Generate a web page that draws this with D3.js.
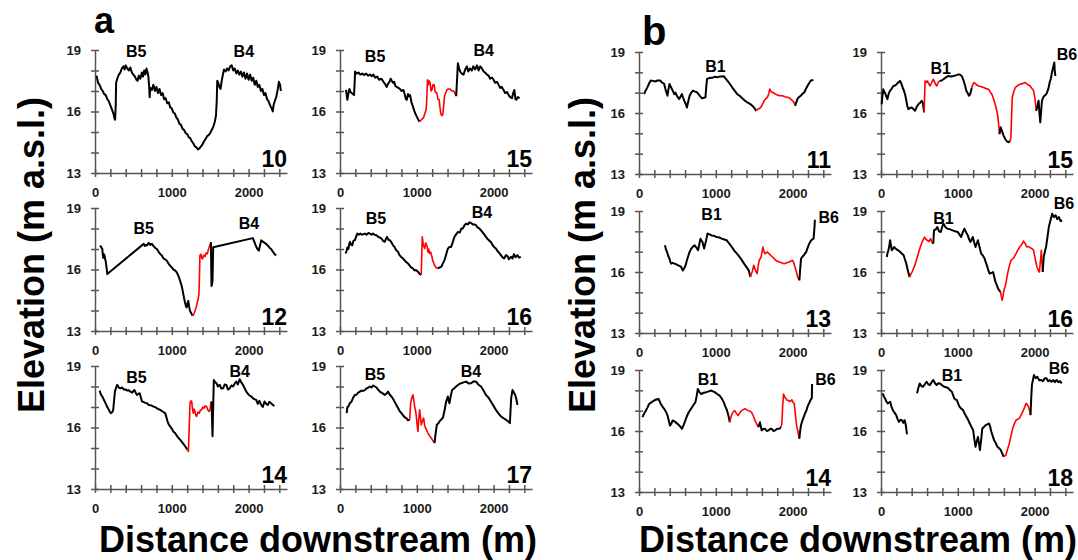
<!DOCTYPE html>
<html>
<head>
<meta charset="utf-8">
<script src="https://cdn.jsdelivr.net/npm/d3@7"></script>
<style>
  body { margin: 0; background: #fff; }
  text { font-family: "Liberation Sans", Arial, sans-serif; font-weight: bold; }
</style>
</head>
<body>
<svg id="chart" width="1078" height="560"></svg>
<script>
//Tick labels shown on every panel
const xTickLabels = [0, 1000, 2000];
const yTickLabels = [13, 16, 19];

//Panel numbers (flood events) for group a and b
const numbersA = ["10", "15", "12", "16", "14", "17"];
const numbersB = ["11", "15", "13", "16", "14", "18"];

//Elevation profiles [distance m, elevation m a.s.l.]
const prof10 = [[20,17.75],[40,17.4],[60,17.3],[80,17.1],[100,17.0],[120,16.85],[140,16.8],[160,16.6],[180,16.5],[200,16.3],[220,16.1],[240,15.9],[255,15.65],[262,15.6],[270,16.3],[275,17.4],[290,17.6],[310,17.8],[330,17.9],[350,18.1],[370,18.2],[385,18.05],[400,18.25],[420,18.1],[440,18.0],[460,18.15],[480,17.9],[500,17.8],[520,17.7],[540,17.55],[555,17.5],[570,17.75],[590,17.6],[610,17.9],[625,17.7],[640,18.0],[655,17.8],[670,18.1],[685,17.9],[695,17.7],[705,17.2],[712,16.7],[720,17.15],[740,17.05],[760,17.3],[780,17.0],[800,17.2],[820,16.9],[840,17.1],[860,16.8],[880,16.9],[900,16.6],[920,16.65],[940,16.4],[960,16.45],[980,16.2],[1000,16.15],[1020,15.95],[1040,15.9],[1060,15.7],[1080,15.6],[1100,15.4],[1120,15.35],[1140,15.15],[1160,15.1],[1180,14.95],[1200,14.9],[1220,14.75],[1240,14.7],[1260,14.55],[1280,14.45],[1300,14.3],[1320,14.25],[1340,14.15],[1360,14.2],[1380,14.3],[1400,14.4],[1420,14.55],[1440,14.65],[1460,14.8],[1480,14.85],[1500,14.95],[1520,15.1],[1540,15.25],[1560,15.5],[1575,15.8],[1585,16.5],[1592,17.5],[1605,17.4],[1620,17.2],[1635,17.1],[1650,17.5],[1665,17.8],[1680,18.05],[1700,17.95],[1720,18.1],[1740,18.0],[1760,18.2],[1780,18.25],[1800,18.0],[1820,18.1],[1840,17.85],[1860,18.0],[1880,17.8],[1900,17.95],[1920,17.7],[1940,17.9],[1960,17.6],[1980,17.85],[2000,17.55],[2020,17.8],[2040,17.5],[2060,17.65],[2080,17.3],[2100,17.5],[2120,17.2],[2140,17.3],[2160,17.0],[2180,17.1],[2200,16.8],[2220,16.9],[2240,16.6],[2260,16.5],[2280,16.3],[2300,16.15],[2315,16.0],[2325,16.3],[2340,16.5],[2360,16.7],[2380,17.1],[2395,17.45],[2410,17.3],[2420,17.0]];
const prof15a = [[78,17.05],[96,16.57],[110,16.9],[122,17.1],[137,16.95],[152,16.9],[168,16.85],[183,16.8],[192,17.5],[196,17.95],[217,17.85],[240,17.9],[265,17.8],[290,17.85],[315,17.78],[340,17.85],[365,17.75],[390,17.8],[415,17.72],[435,17.8],[460,17.65],[485,17.7],[510,17.55],[540,17.6],[565,17.45],[585,17.35],[608,17.2],[625,17.35],[645,17.45],[660,17.6],[674,17.5],[690,17.4],[705,17.45],[720,17.25],[739,17.2],[760,17.15],[780,17.1],[800,17.0],[826,17.05],[845,16.8],[858,16.6],[870,16.57],[885,16.85],[900,16.75],[913,16.8],[930,16.45],[945,16.3],[957,16.15],[975,15.95],[1000,15.75],[1020,15.6],[1035,15.5],[1060,15.6],[1087,15.7],[1105,15.9],[1122,16.1],[1130,16.6],[1139,17.55],[1150,17.3],[1160,17.5],[1174,17.4],[1185,17.0],[1196,17.05],[1210,17.3],[1226,17.3],[1240,16.95],[1261,16.9],[1275,16.6],[1291,16.57],[1302,16.2],[1313,15.9],[1325,15.8],[1339,15.85],[1350,16.3],[1361,16.75],[1375,16.9],[1391,17.05],[1410,17.1],[1435,17.1],[1455,17.0],[1478,17.0],[1495,16.9],[1513,16.75],[1535,18.35],[1550,18.1],[1565,17.95],[1585,17.85],[1609,17.8],[1630,18.05],[1652,18.2],[1670,17.95],[1690,18.1],[1717,18.0],[1735,18.2],[1760,18.05],[1783,18.25],[1805,18.0],[1825,18.2],[1848,18.1],[1870,17.95],[1890,17.9],[1913,17.8],[1935,17.75],[1955,17.6],[1980,17.65],[2000,17.55],[2020,17.4],[2045,17.45],[2065,17.3],[2085,17.15],[2105,17.2],[2130,17.05],[2150,16.9],[2175,16.95],[2196,16.8],[2215,16.7],[2239,16.65],[2255,16.9],[2270,17.05],[2285,16.6],[2296,16.57],[2315,16.7],[2339,16.65]];
const prof12 = [[65,17.17],[80,17.1],[95,17.0],[102,16.7],[108,16.57],[116,16.75],[125,16.68],[132,16.5],[138,16.43],[150,16.1],[160,15.78],[634,17.25],[650,17.15],[665,17.2],[677,17.17],[700,17.3],[720,17.2],[741,17.25],[760,17.15],[785,17.05],[806,17.0],[830,16.85],[850,16.75],[871,16.68],[890,16.55],[910,16.5],[935,16.43],[955,16.3],[975,16.2],[1000,16.1],[1020,16.0],[1045,15.95],[1065,15.86],[1085,15.7],[1108,15.45],[1125,15.25],[1142,14.96],[1160,14.6],[1172,14.39],[1185,14.2],[1194,14.15],[1205,14.35],[1215,14.47],[1225,14.2],[1237,13.98],[1255,13.85],[1272,13.74],[1290,13.85],[1302,13.98],[1320,14.2],[1332,14.39],[1345,14.6],[1353,14.8],[1360,15.6],[1366,16.68],[1380,16.75],[1390,16.55],[1401,16.52],[1415,16.7],[1431,16.63],[1445,16.8],[1461,16.76],[1475,16.95],[1487,17.09],[1498,17.2],[1509,17.33],[1517,15.2],[1524,15.3],[1530,15.45],[1539,17.09],[2056,17.53],[2075,17.35],[2090,17.2],[2099,17.12],[2115,17.0],[2134,16.92],[2150,17.2],[2164,17.42],[2190,17.35],[2210,17.3],[2228,17.25],[2255,17.15],[2275,17.05],[2293,17.0],[2320,16.85],[2340,16.75],[2358,16.68]];
const prof16a = [[73,16.78],[85,16.9],[95,17.07],[110,17.0],[120,17.25],[130,17.35],[145,17.2],[160,17.18],[175,17.4],[194,17.43],[210,17.6],[225,17.75],[245,17.7],[265,17.75],[285,17.7],[302,17.72],[325,17.75],[345,17.7],[370,17.78],[389,17.75],[410,17.7],[430,17.75],[455,17.68],[475,17.67],[495,17.6],[520,17.55],[540,17.51],[560,17.4],[583,17.35],[598,17.5],[613,17.59],[630,17.45],[648,17.43],[665,17.35],[691,17.18],[710,17.1],[730,16.95],[756,16.86],[775,16.7],[800,16.6],[821,16.54],[840,16.45],[865,16.35],[886,16.29],[905,16.2],[925,16.1],[950,16.05],[970,15.95],[990,15.98],[1015,15.89],[1035,15.8],[1058,15.73],[1071,17.59],[1085,17.2],[1102,17.02],[1115,17.3],[1132,17.18],[1145,16.85],[1155,17.0],[1166,16.78],[1180,16.85],[1197,16.62],[1210,16.4],[1231,16.21],[1250,16.1],[1274,16.05],[1295,16.1],[1318,16.13],[1340,16.3],[1361,16.46],[1380,16.7],[1404,17.02],[1425,17.1],[1447,17.1],[1470,17.35],[1490,17.59],[1510,17.7],[1534,17.83],[1560,17.8],[1580,18.0],[1598,18.0],[1620,18.15],[1641,18.24],[1665,18.2],[1685,18.3],[1706,18.27],[1730,18.2],[1750,18.2],[1771,18.16],[1790,18.05],[1815,18.0],[1836,17.91],[1860,17.8],[1880,17.7],[1900,17.59],[1920,17.5],[1945,17.4],[1965,17.35],[1985,17.2],[2005,17.1],[2030,17.02],[2050,16.9],[2075,16.8],[2095,16.7],[2115,16.6],[2138,16.54],[2160,16.7],[2181,16.65],[2200,16.5],[2225,16.62],[2246,16.54],[2265,16.75],[2285,16.6],[2311,16.7],[2330,16.58],[2354,16.62]];
const prof14a = [[60,17.8],[78,17.6],[95,17.51],[115,17.35],[138,17.18],[160,17.0],[181,16.86],[195,16.75],[211,16.7],[225,16.75],[237,16.86],[248,17.3],[259,17.75],[275,17.95],[289,18.08],[310,17.95],[332,17.91],[355,17.95],[375,17.85],[397,17.86],[420,17.8],[440,17.82],[461,17.75],[485,17.7],[513,17.83],[530,17.7],[547,17.59],[565,17.65],[582,17.67],[598,17.45],[612,17.27],[630,17.25],[655,17.2],[677,17.18],[700,17.1],[730,17.08],[763,17.02],[790,16.98],[820,16.9],[849,16.86],[880,16.78],[914,16.7],[930,16.5],[944,16.3],[960,16.15],[978,16.05],[1000,15.95],[1020,15.8],[1043,15.73],[1065,15.6],[1085,15.5],[1108,15.41],[1130,15.3],[1159,15.16],[1180,15.05],[1203,14.92],[1216,14.83],[1237,17.18],[1248,17.3],[1259,17.27],[1270,16.9],[1280,16.7],[1290,16.9],[1302,16.78],[1312,16.6],[1323,16.54],[1340,16.75],[1358,16.7],[1372,16.85],[1388,16.86],[1405,17.0],[1418,16.94],[1435,17.05],[1453,17.02],[1470,16.85],[1487,16.78],[1500,16.9],[1510,17.2],[1517,17.27],[1530,15.57],[1547,18.32],[1565,18.2],[1582,18.16],[1600,18.0],[1625,18.08],[1645,17.9],[1668,17.91],[1690,18.1],[1711,18.08],[1730,17.85],[1754,17.91],[1775,18.05],[1797,18.0],[1820,18.15],[1841,18.24],[1860,18.1],[1884,18.35],[1905,18.2],[1927,18.08],[1950,17.9],[1970,17.75],[2000,17.6],[2034,17.51],[2065,17.4],[2099,17.35],[2120,17.15],[2140,17.3],[2164,17.1],[2185,17.0],[2207,17.27],[2230,17.15],[2250,17.1],[2270,17.25],[2293,17.18],[2315,17.1],[2336,17.05]];
const prof17 = [[86,16.7],[97,17.0],[108,17.02],[130,17.2],[151,17.27],[170,17.45],[194,17.59],[215,17.6],[237,17.7],[259,17.75],[280,17.8],[302,17.78],[324,17.83],[345,17.9],[367,17.95],[389,18.0],[410,17.95],[432,18.05],[454,18.0],[475,17.95],[497,17.85],[518,17.75],[540,17.7],[561,17.65],[583,17.59],[605,17.65],[626,17.75],[648,17.6],[670,17.51],[690,17.4],[712,17.25],[734,17.1],[755,16.95],[777,16.8],[799,16.7],[820,16.6],[842,16.5],[864,16.46],[885,16.35],[907,16.38],[920,17.18],[935,17.45],[950,17.59],[962,17.3],[972,17.02],[985,16.8],[994,16.54],[1005,16.1],[1015,15.81],[1025,16.4],[1037,16.86],[1048,16.5],[1058,16.13],[1072,16.3],[1089,16.46],[1102,16.1],[1115,15.97],[1130,15.85],[1145,15.73],[1165,15.6],[1188,15.49],[1210,15.35],[1231,15.24],[1245,15.7],[1261,16.13],[1280,16.2],[1296,16.3],[1320,16.4],[1339,16.46],[1360,16.8],[1382,17.27],[1404,17.51],[1415,17.3],[1425,17.18],[1440,17.5],[1460,17.83],[1485,17.9],[1512,18.0],[1545,18.1],[1577,18.16],[1610,18.2],[1641,18.24],[1675,18.15],[1706,18.16],[1740,18.25],[1771,18.24],[1800,18.1],[1836,18.0],[1870,17.8],[1900,17.59],[1935,17.45],[1965,17.27],[2000,17.05],[2030,16.86],[2060,16.7],[2095,16.54],[2130,16.45],[2160,16.38],[2190,16.3],[2212,16.21],[2220,16.8],[2229,17.43],[2246,17.83],[2265,17.7],[2281,17.59],[2295,17.4],[2311,17.1]];
const prof11 = [[66,16.93],[85,17.1],[109,17.26],[130,17.45],[153,17.6],[180,17.58],[210,17.55],[240,17.6],[275,17.6],[300,17.5],[328,17.43],[350,17.1],[371,16.85],[385,17.2],[397,17.43],[412,17.3],[428,17.18],[445,17.05],[459,16.93],[475,17.0],[493,16.85],[510,16.75],[524,16.69],[540,16.8],[559,16.93],[575,16.75],[590,16.6],[608,16.45],[624,16.27],[640,16.55],[659,16.85],[680,17.0],[703,17.1],[730,17.05],[755,17.02],[790,16.85],[821,16.72],[845,16.75],[865,16.77],[876,17.3],[886,17.68],[920,17.72],[952,17.73],[985,17.78],[1017,17.76],[1060,17.8],[1105,17.81],[1125,17.7],[1148,17.6],[1180,17.45],[1214,17.26],[1245,17.1],[1279,16.93],[1310,16.85],[1345,16.72],[1380,16.6],[1410,16.52],[1445,16.45],[1476,16.36],[1500,16.25],[1528,16.1],[1541,16.19],[1560,16.2],[1585,16.27],[1605,16.4],[1629,16.6],[1650,16.7],[1672,16.77],[1690,16.95],[1703,17.18],[1720,17.05],[1738,17.02],[1770,16.95],[1803,16.88],[1835,16.85],[1869,16.85],[1900,16.8],[1934,16.77],[1965,16.72],[2000,16.6],[2020,16.5],[2035,16.36],[2050,16.55],[2066,16.72],[2088,16.8],[2109,16.85],[2130,16.95],[2153,17.02],[2175,17.2],[2197,17.35],[2220,17.5],[2240,17.6],[2271,17.63]];
const prof15b = [[9,16.43],[20,16.9],[30,17.17],[40,17.05],[52,17.0],[65,16.85],[83,16.68],[100,16.95],[117,17.09],[140,17.2],[161,17.33],[183,17.35],[204,17.42],[225,17.5],[248,17.58],[265,17.45],[283,17.25],[298,17.1],[313,16.92],[330,16.6],[345,16.3],[357,16.19],[378,16.25],[400,16.27],[420,16.2],[443,16.11],[465,16.3],[487,16.43],[510,16.5],[530,16.6],[545,16.5],[561,16.03],[574,17.58],[590,17.5],[604,17.58],[620,17.45],[639,17.33],[660,17.5],[683,17.66],[705,17.45],[726,17.33],[745,17.5],[761,17.58],[790,17.6],[813,17.66],[845,17.75],[878,17.82],[910,17.8],[943,17.82],[975,17.85],[1009,17.9],[1030,17.88],[1052,17.82],[1075,17.6],[1096,17.33],[1110,17.1],[1126,17.0],[1145,16.85],[1161,16.92],[1183,17.25],[1200,17.45],[1213,17.5],[1240,17.4],[1270,17.33],[1300,17.3],[1335,17.25],[1368,17.2],[1400,17.17],[1420,17.05],[1443,16.92],[1465,16.7],[1487,16.43],[1505,16.15],[1517,15.94],[1530,15.5],[1543,14.96],[1558,15.3],[1574,15.13],[1595,14.9],[1617,14.72],[1640,14.6],[1661,14.56],[1683,14.64],[1691,14.8],[1700,15.8],[1709,16.76],[1725,17.0],[1748,17.25],[1780,17.35],[1813,17.42],[1845,17.45],[1878,17.5],[1910,17.4],[1943,17.33],[1965,17.2],[1987,17.09],[2005,16.7],[2022,16.11],[2040,16.4],[2052,16.6],[2063,16.0],[2074,15.54],[2085,16.1],[2096,16.6],[2110,16.75],[2126,16.84],[2145,16.9],[2161,17.0],[2180,17.2],[2196,17.5],[2212,17.7],[2226,17.99],[2245,18.3],[2257,18.48],[2262,18.1],[2270,17.82]];
const prof13 = [[338,17.31],[352,17.1],[365,16.98],[380,16.8],[396,16.66],[408,16.5],[418,16.41],[440,16.45],[462,16.41],[485,16.38],[505,16.33],[527,16.3],[549,16.25],[560,16.15],[571,16.08],[590,16.2],[607,16.33],[622,16.55],[637,16.74],[660,17.0],[681,17.15],[703,17.25],[725,17.31],[748,17.2],[769,17.07],[785,17.35],[800,17.64],[813,17.55],[826,17.48],[838,17.3],[848,17.15],[860,17.35],[870,17.48],[882,17.7],[892,17.89],[918,17.85],[945,17.8],[978,17.78],[1011,17.72],[1044,17.7],[1077,17.64],[1110,17.6],[1143,17.56],[1175,17.4],[1209,17.23],[1240,17.05],[1275,16.9],[1308,16.75],[1341,16.57],[1370,16.4],[1398,16.25],[1429,16.08],[1451,15.75],[1462,15.9],[1473,16.0],[1495,16.33],[1516,16.08],[1538,15.92],[1552,16.3],[1565,16.57],[1591,16.74],[1613,17.23],[1628,17.0],[1640,16.9],[1670,16.98],[1692,16.9],[1714,16.82],[1736,16.75],[1758,16.66],[1790,16.55],[1824,16.49],[1857,16.45],[1890,16.41],[1923,16.45],[1956,16.49],[1978,16.55],[2000,16.57],[2015,16.45],[2031,16.25],[2050,16.0],[2066,15.75],[2088,15.59],[2100,16.2],[2110,16.66],[2128,16.75],[2145,16.82],[2160,16.9],[2176,16.98],[2192,17.15],[2207,17.31],[2225,17.45],[2242,17.56],[2273,17.64],[2285,18.2],[2290,18.57]];
const prof16b = [[75,16.74],[86,16.95],[97,17.07],[108,17.3],[119,17.56],[130,17.3],[141,17.07],[156,17.15],[171,17.23],[190,17.15],[207,17.1],[230,17.05],[251,16.98],[273,16.9],[295,16.82],[313,16.6],[330,16.41],[345,16.15],[360,15.92],[374,15.75],[390,15.9],[404,16.0],[426,16.2],[448,16.41],[470,16.7],[492,16.98],[514,17.25],[536,17.48],[552,17.6],[567,17.72],[585,17.6],[602,17.56],[625,17.5],[646,17.64],[665,17.45],[681,17.39],[690,18.05],[712,18.1],[734,18.21],[756,18.0],[778,17.97],[795,18.2],[813,18.38],[840,18.2],[866,18.13],[900,18.1],[932,18.05],[965,18.0],[998,17.97],[1020,17.85],[1042,17.72],[1065,17.95],[1086,18.13],[1108,17.95],[1130,17.8],[1148,17.6],[1165,17.48],[1180,17.6],[1196,17.72],[1213,17.45],[1231,17.23],[1246,17.4],[1262,17.56],[1284,17.2],[1305,16.9],[1327,16.8],[1349,16.66],[1367,16.45],[1385,16.25],[1400,16.05],[1415,15.92],[1437,15.95],[1459,16.0],[1475,15.75],[1490,15.51],[1508,15.35],[1525,15.18],[1540,15.1],[1556,15.02],[1567,14.8],[1578,14.61],[1590,14.85],[1600,15.1],[1613,15.25],[1626,15.43],[1640,15.75],[1657,16.08],[1675,16.35],[1692,16.57],[1715,16.65],[1736,16.74],[1758,16.9],[1780,17.07],[1802,17.2],[1824,17.31],[1840,17.4],[1855,17.52],[1877,17.4],[1899,17.23],[1921,17.25],[1943,17.2],[1965,17.15],[1987,17.07],[2010,16.6],[2031,16.25],[2046,16.1],[2062,16.0],[2075,16.5],[2088,17.07],[2096,16.5],[2105,16.0],[2119,16.74],[2134,17.0],[2149,17.23],[2167,17.7],[2185,18.21],[2207,18.55],[2229,18.87],[2250,18.7],[2273,18.79],[2295,18.6],[2316,18.7],[2338,18.5],[2360,18.54]];
const prof14b = [[44,16.68],[66,16.85],[88,17.0],[110,17.15],[131,17.33],[165,17.42],[197,17.5],[225,17.55],[254,17.58],[270,17.45],[284,17.33],[305,17.2],[328,17.09],[350,16.95],[372,16.76],[388,16.5],[403,16.27],[420,16.35],[438,16.52],[470,16.45],[503,16.35],[530,16.25],[560,16.11],[582,16.3],[604,16.52],[626,16.75],[648,16.92],[670,17.05],[691,17.17],[713,17.3],[735,17.42],[750,17.7],[766,18.07],[788,17.9],[810,17.82],[843,17.88],[875,17.91],[908,17.95],[941,17.99],[963,17.95],[985,17.91],[1018,17.82],[1050,17.74],[1077,17.6],[1103,17.42],[1125,17.2],[1147,17.0],[1165,16.75],[1182,16.43],[1197,16.7],[1212,16.84],[1230,16.95],[1247,17.0],[1270,16.85],[1291,16.76],[1313,16.9],[1335,17.0],[1357,17.05],[1379,17.09],[1400,17.05],[1422,17.0],[1445,16.98],[1466,16.92],[1488,16.75],[1510,16.52],[1532,16.35],[1554,16.19],[1575,16.43],[1597,16.03],[1619,16.1],[1641,16.11],[1663,16.0],[1685,16.03],[1707,16.1],[1729,16.11],[1750,16.0],[1772,16.03],[1794,16.1],[1816,16.11],[1832,16.12],[1847,16.19],[1860,16.35],[1870,17.2],[1882,17.82],[1900,17.65],[1917,17.58],[1932,17.5],[1948,17.5],[1970,17.45],[1991,17.53],[2008,17.4],[2022,17.33],[2034,16.9],[2044,16.52],[2055,16.2],[2066,16.03],[2078,15.8],[2088,15.62],[2098,16.0],[2109,16.27],[2126,16.5],[2144,16.68],[2160,16.85],[2179,17.0],[2195,17.2],[2210,17.33],[2225,17.45],[2241,17.58],[2250,17.6],[2254,18.31]];
const prof18a = [[22,17.85],[37,17.7],[53,17.6],[70,17.45],[88,17.36],[104,17.4],[119,17.44],[136,17.2],[154,17.03],[175,16.9],[198,16.78],[215,16.6],[233,16.45],[253,16.55],[273,16.53],[290,16.4],[308,16.53],[323,16.3],[338,15.84]];
const prof18b = [[470,17.85],[485,18.1],[505,18.34],[527,18.2],[549,18.18],[571,18.3],[593,18.42],[615,18.3],[637,18.26],[659,18.4],[681,18.51],[703,18.35],[725,18.26],[747,18.35],[769,18.34],[795,18.25],[822,18.18],[850,18.15],[879,18.1],[900,18.0],[923,17.93],[940,17.75],[954,17.6],[970,17.55],[989,17.52],[1005,17.35],[1024,17.19],[1045,17.1],[1068,17.03],[1090,16.85],[1112,16.7],[1134,16.55],[1156,16.37],[1178,16.2],[1200,16.04],[1215,15.6],[1231,15.22],[1247,15.5],[1262,15.71],[1275,15.4],[1288,15.06],[1305,15.6],[1319,16.12],[1340,16.2],[1363,16.29],[1385,16.33],[1407,16.37],[1422,16.2],[1437,15.96],[1455,15.75],[1473,15.55],[1495,15.4],[1516,15.22],[1538,15.15],[1560,15.06],[1578,14.9],[1596,14.73],[1610,14.78],[1626,14.81],[1648,15.1],[1670,15.38],[1692,15.75],[1714,16.12],[1736,16.35],[1758,16.53],[1780,16.58],[1802,16.62],[1825,16.8],[1846,16.95],[1868,17.15],[1890,17.36],[1905,17.3],[1921,17.19],[1935,17.0],[1947,16.78],[1956,17.6],[1965,18.26],[1978,18.5],[1991,18.75],[2013,18.6],[2035,18.67],[2060,18.5],[2088,18.51],[2110,18.45],[2132,18.6],[2154,18.59],[2176,18.45],[2198,18.5],[2220,18.42],[2242,18.5],[2264,18.4],[2286,18.51],[2308,18.4],[2330,18.45],[2352,18.34]];

//Distance ranges [from, to] drawn in red
const red10 = [];
const red15a = [[1035,1513]];
const red12 = [[1272,1509]];
const red16a = [[1058,1274]];
const red14a = [[1203,1517]];
const red17 = [[907,1231]];
const red11 = [[1528,2035]];
const red15b = [[561,761],[1183,1543],[1683,2022]];
const red13 = [[1451,2088]];
const red16b = [[374,681],[1556,2105]];
const red14b = [[1182,1554],[1847,2088]];
const red18 = [[1596,1947]];

//Bend labels [name, distance, elevation]
const marks10 = [["B5",537,18.68],["B4",1938,18.68]];
const marks15a = [["B5",457,18.43],["B4",1870,18.72]];
const marks12 = [["B5",634,17.74],["B4",2004,17.99]];
const marks16a = [["B5",467,18.24],["B4",1849,18.51]];
const marks14a = [["B5",539,18.19],["B4",1884,18.48]];
const marks17 = [["B5",454,18.32],["B4",1706,18.48]];
const marks11 = [["B1",996,18.0]];
const marks15b = [["B1",778,17.94],["B6",2422,18.6]];
const marks13 = [["B1",945,18.54],["B6",2470,18.41]];
const marks16b = [["B1",813,18.38],["B6",2382,19.1]];
const marks14b = [["B1",897,18.26],["B6",2429,18.26]];
const marks18 = [["B1",923,18.46],["B6",2316,18.79]];

//Select the svg element by id
const chartBox = d3.select("#chart");

//Panel grid: axis origins in pixels
const colX = [95, 340, 639, 881];
const rowTopA = [50, 208, 366];
const rowTopB = [52, 211, 370];
const panelW = 192;

const panels = [
    {num: numbersA[0], lines: [prof10], red: red10, marks: marks10, col: 0, row: 0},
    {num: numbersA[1], lines: [prof15a], red: red15a, marks: marks15a, col: 1, row: 0},
    {num: numbersA[2], lines: [prof12], red: red12, marks: marks12, col: 0, row: 1},
    {num: numbersA[3], lines: [prof16a], red: red16a, marks: marks16a, col: 1, row: 1},
    {num: numbersA[4], lines: [prof14a], red: red14a, marks: marks14a, col: 0, row: 2},
    {num: numbersA[5], lines: [prof17], red: red17, marks: marks17, col: 1, row: 2},
    {num: numbersB[0], lines: [prof11], red: red11, marks: marks11, col: 2, row: 0},
    {num: numbersB[1], lines: [prof15b], red: red15b, marks: marks15b, col: 3, row: 0},
    {num: numbersB[2], lines: [prof13], red: red13, marks: marks13, col: 2, row: 1},
    {num: numbersB[3], lines: [prof16b], red: red16b, marks: marks16b, col: 3, row: 1},
    {num: numbersB[4], lines: [prof14b], red: red14b, marks: marks14b, col: 2, row: 2},
    {num: numbersB[5], lines: [prof18a, prof18b], red: red18, marks: marks18, col: 3, row: 2}
];

//Split a profile into black / red runs
function runsOf(pts, red) {
    const inRed = (a, b) => {
        const m = (a[0] + b[0]) / 2;
        return red.some(r => m >= r[0] && m <= r[1]);
    };
    const out = [];
    let cur = null;
    for (let i = 0; i < pts.length - 1; i++) {
        const r = inRed(pts[i], pts[i + 1]);
        if (!cur || cur.red !== r) {
            cur = {red: r, pts: [pts[i]]};
            out.push(cur);
        }
        cur.pts.push(pts[i + 1]);
    }
    return out;
}

panels.forEach(p => {
    const left = colX[p.col];
    const top = p.col < 2 ? rowTopA[p.row] : rowTopB[p.row];
    const h = p.col < 2 ? 123 : 122;

    const xScale = d3.scaleLinear().domain([0, 2500]).range([0, panelW]);
    const yScale = d3.scaleLinear().domain([13, 19]).range([h, 0]);

    const g = chartBox.append("g").attr("transform", "translate(" + left + "," + top + ")");

    // x axis with crossing ticks
    const xAxis = g.append("g")
        .attr("transform", "translate(0," + h + ")")
        .call(d3.axisBottom(xScale)
            .tickValues(d3.range(0, 2401, 200))
            .tickSizeInner(4).tickSizeOuter(0)
            .tickFormat(d => xTickLabels.includes(d) ? d : ""));
    xAxis.selectAll(".tick line").attr("y1", -4);
    xAxis.selectAll(".tick text").attr("y", 15).attr("font-size", 13).attr("fill", "#1a1a1a")
        .style("font-family", "'Liberation Sans', Arial, sans-serif").style("font-weight", "bold");

    // y axis with crossing ticks
    const yAxis = g.append("g")
        .call(d3.axisLeft(yScale)
            .tickValues([13, 14, 15, 16, 17, 18, 19])
            .tickSizeInner(4).tickSizeOuter(0)
            .tickFormat(d => yTickLabels.includes(d) ? d : ""));
    yAxis.selectAll(".tick line").attr("x1", 4);
    yAxis.selectAll(".tick text").attr("x", -14).attr("font-size", 13).attr("fill", "#1a1a1a")
        .style("font-family", "'Liberation Sans', Arial, sans-serif").style("font-weight", "bold");

    [xAxis, yAxis].forEach(a => {
        a.selectAll("path, line").attr("stroke", "#555").attr("stroke-width", 1.5);
    });

    // profile lines
    const line = d3.line().x(d => xScale(d[0])).y(d => yScale(d[1]));
    p.lines.forEach(pts => {
        runsOf(pts, p.red).forEach(run => {
            g.append("path")
                .attr("d", line(run.pts))
                .attr("fill", "none")
                .attr("stroke", run.red ? "#ff0000" : "#000")
                .attr("stroke-width", run.red ? 1.6 : 2.0)
                .attr("stroke-linejoin", "round");
        });
    });

    // bend labels
    g.selectAll(".mark")
        .data(p.marks)
        .join("text")
        .attr("x", d => xScale(d[1]))
        .attr("y", d => yScale(d[2]))
        .attr("text-anchor", "middle")
        .attr("font-size", 16)
        .text(d => d[0]);

    // panel number
    g.append("text")
        .attr("x", panelW)
        .attr("y", h - 6)
        .attr("text-anchor", "end")
        .attr("font-size", 23)
        .text(p.num);
});

//Group letters
chartBox.append("text").attr("x", 94).attr("y", 33).attr("font-size", 36).text("a");
chartBox.append("text").attr("x", 642).attr("y", 45).attr("font-size", 40).text("b");

//Axis titles
[44, 595].forEach(x => {
    chartBox.append("text")
        .attr("transform", "translate(" + x + ",255) rotate(-90)")
        .attr("text-anchor", "middle")
        .attr("font-size", 36)
        .text("Elevation (m a.s.l.)");
});
[318, 858].forEach(x => {
    chartBox.append("text")
        .attr("x", x).attr("y", 552)
        .attr("text-anchor", "middle")
        .attr("font-size", 36)
        .text("Distance downstream (m)");
});
</script>
</body>
</html>
